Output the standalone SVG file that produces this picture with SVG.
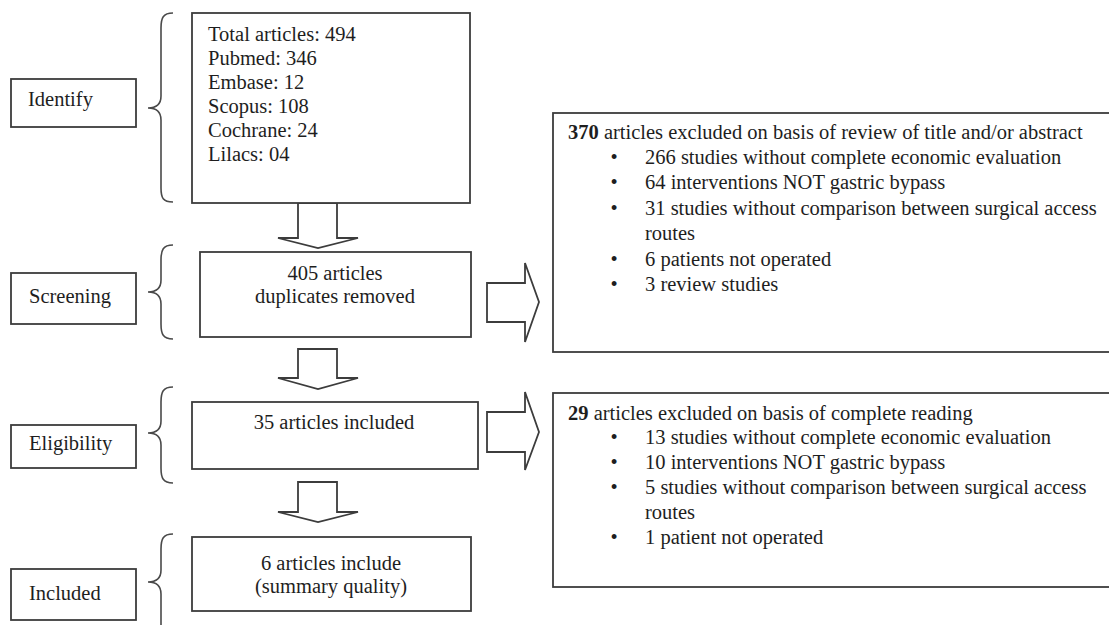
<svg xmlns="http://www.w3.org/2000/svg" width="1109" height="625" viewBox="0 0 1109 625">
<style>
.box{fill:#fff;stroke:#3c3c3c;stroke-width:1.8}
.arr{fill:#fff;stroke:#3c3c3c;stroke-width:1.8;stroke-linejoin:miter}
.brace{fill:none;stroke:#4a4a4a;stroke-width:1.6}
text{font-family:"Liberation Serif","Times New Roman",serif;font-size:20.5px;fill:#1e1e1e}
.c{text-anchor:middle}
.b{font-weight:bold}
</style>
<rect width="1109" height="625" fill="#fff"/>
<g id="braces">
<path class="brace" d="M173,13 C163,13 161,18 161,28 L161,96 C161,104 157,108 148,108 C157,108 161,112 161,120 L161,188 C161,198 163,202 173,202"/>
<path class="brace" d="M173,245 C163,245 161,250 161,260 L161,280 C161,288 157,292 148,292 C157,292 161,296 161,304 L161,324 C161,334 163,339 173,339"/>
<path class="brace" d="M173,387 C163,387 161,392 161,402 L161,421 C161,429 157,433 148,433 C157,433 161,437 161,445 L161,468 C161,478 163,483 173,483"/>
<path class="brace" d="M173,534 C163,534 161,539 161,549 L161,570 C161,578 157,582 148,582 C157,582 161,586 161,594 L161,625"/>
</g>
<g id="connectors">
<polygon class="arr" points="298,203 337,203 337,238 358,238 318,248 278,238 298,238"/>
<polygon class="arr" points="298,349 337,349 337,378 358,378 318,389 278,378 298,378"/>
<polygon class="arr" points="298,482 337,482 337,512 358,512 318,522 278,512 298,512"/>
<polygon class="arr" points="487,283 525,283 525,263 539,302 525,342 525,322 487,322"/>
<polygon class="arr" points="487,412 525,412 525,392 539,432 525,470 525,452 487,452"/>
</g>
<g id="label-identify">
<rect class="box" x="11" y="79" width="125" height="48"/>
<text x="28" y="106">Identify</text>
</g>
<g id="label-screening">
<rect class="box" x="11" y="273" width="125" height="51"/>
<text x="29" y="303">Screening</text>
</g>
<g id="label-eligibility">
<rect class="box" x="11" y="425" width="125" height="43"/>
<text x="29" y="450">Eligibility</text>
</g>
<g id="label-included">
<rect class="box" x="11" y="569" width="125" height="51"/>
<text x="29" y="600">Included</text>
</g>
<g id="node-total">
<rect class="box" x="192" y="13" width="278" height="190"/>
<text x="208" y="41">Total articles: 494</text>
<text x="208" y="65">Pubmed: 346</text>
<text x="208" y="89">Embase: 12</text>
<text x="208" y="113">Scopus: 108</text>
<text x="208" y="137">Cochrane: 24</text>
<text x="208" y="161">Lilacs: 04</text>
</g>
<g id="node-screening">
<rect class="box" x="200" y="252" width="271" height="85"/>
<text class="c" x="335" y="280">405 articles</text>
<text class="c" x="335" y="303">duplicates removed</text>
</g>
<g id="node-eligibility">
<rect class="box" x="192" y="402" width="286" height="67"/>
<text class="c" x="334" y="429">35 articles included</text>
</g>
<g id="node-included">
<rect class="box" x="192" y="537" width="279" height="74"/>
<text class="c" x="331" y="570">6 articles include</text>
<text class="c" x="331" y="593">(summary quality)</text>
</g>
<g id="node-excluded1">
<rect class="box" x="553" y="113" width="570" height="239"/>
<text x="568" y="139"><tspan class="b">370</tspan> articles excluded on basis of review of title and/or abstract</text>
<text class="c" x="614" y="164">•</text><text x="645" y="164">266 studies without complete economic evaluation</text>
<text class="c" x="614" y="189">•</text><text x="645" y="189">64 interventions NOT gastric bypass</text>
<text class="c" x="614" y="215">•</text><text x="645" y="215">31 studies without comparison between surgical access</text>
<text x="645" y="240">routes</text>
<text class="c" x="614" y="266">•</text><text x="645" y="266">6 patients not operated</text>
<text class="c" x="614" y="291">•</text><text x="645" y="291">3 review studies</text>
</g>
<g id="node-excluded2">
<rect class="box" x="553" y="393" width="570" height="194"/>
<text x="568" y="420"><tspan class="b">29</tspan> articles excluded on basis of complete reading</text>
<text class="c" x="614" y="444">•</text><text x="645" y="444">13 studies without complete economic evaluation</text>
<text class="c" x="614" y="469">•</text><text x="645" y="469">10 interventions NOT gastric bypass</text>
<text class="c" x="614" y="494">•</text><text x="645" y="494">5 studies without comparison between surgical access</text>
<text x="645" y="519">routes</text>
<text class="c" x="614" y="544">•</text><text x="645" y="544">1 patient not operated</text>
</g>
</svg>
